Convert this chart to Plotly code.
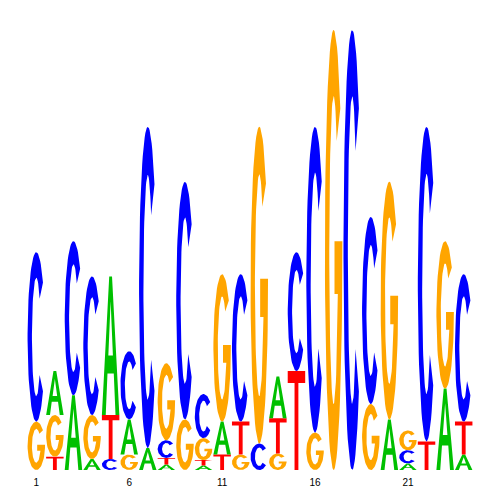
import numpy as np
import plotly.graph_objects as go

positions = list(range(1, 25))
bits_A = [0, 0.20, 0.34, 0.05, 0.63, 0.16, 0.10, 0.025, 0, 0.02, 0.15, 0, 0, 0.19, 0, 0, 0, 0, 0, 0.23, 0.03, 0, 0.37, 0.07]
bits_C = [0.77, 0, 0.70, 0.63, 0.05, 0.31, 1.46, 0.08, 1.08, 0.20, 0, 0.67, 0.12, 0, 0.54, 1.39, 0, 2.0, 0.85, 0, 0.06, 1.43, 0, 0.67]
bits_G = [0.22, 0.19, 0, 0.20, 0, 0.07, 0, 0.35, 0.23, 0.10, 0.67, 0.07, 1.44, 0.075, 0, 0.17, 2.0, 0, 0.30, 1.08, 0.09, 0, 0.67, 0]
bits_T = [0, 0.06, 0, 0, 0.20, 0, 0, 0.03, 0, 0.025, 0.07, 0.15, 0, 0.16, 0.45, 0, 0, 0, 0, 0, 0, 0.13, 0, 0.15]
tick_positions = [1, 6, 11, 16, 21]

colors = {"A": "#00C000", "C": "#0000FF", "G": "#FFA500", "T": "#FF0000"}


def arc(cx, cy, rx, ry, a0, a1, n=60):
    t = np.radians(np.linspace(a0, a1, n))
    return list(cx + rx * np.cos(t)), list(cy + ry * np.sin(t))


def glyph(letter):
    """Return list of polygons (xs, ys) in unit box [0,1]x[0,1]."""
    if letter == "C":
        ox, oy = arc(0.5, 0.5, 0.5, 0.5, 40, 320)
        ix, iy = arc(0.5, 0.5, 0.25, 0.35, 320, 40)
        return [(ox + ix, oy + iy)]
    if letter == "G":
        ox, oy = arc(0.5, 0.5, 0.5, 0.5, 40, 360)
        bx = [1.0, 0.55, 0.55, 0.74]
        by = [0.52, 0.52, 0.40, 0.40]
        ix, iy = arc(0.5, 0.5, 0.25, 0.35, 330, 45)
        return [(ox + bx + ix, oy + by + iy)]
    if letter == "A":
        outer = ([0, 0.22, 0.32, 0.68, 0.78, 1.0, 0.58, 0.42],
                 [0, 0, 0.30, 0.30, 0, 0, 1, 1])
        hole = ([0.37, 0.5, 0.63], [0.43, 0.82, 0.43])
        return [outer, hole]
    # T
    return [([0, 1, 1, 0.61, 0.61, 0.39, 0.39, 0],
             [1, 1, 0.88, 0.88, 0, 0, 0.88, 0.88])]


fig = go.Figure()
half = 0.47
for i, pos in enumerate(positions):
    col = {"A": bits_A[i], "C": bits_C[i], "G": bits_G[i], "T": bits_T[i]}
    base = 0.0
    for letter, h in sorted(col.items(), key=lambda kv: kv[1]):
        if h <= 0:
            continue
        xs, ys = [], []
        for px, py in glyph(letter):
            if xs:
                xs.append(None)
                ys.append(None)
            xs += [pos - half + 2 * half * v for v in px]
            ys += [base + h * v for v in py]
        fig.add_trace(go.Scatter(
            x=xs, y=ys, mode="lines", fill="toself",
            fillcolor=colors[letter], line=dict(width=0, color=colors[letter]),
            hoverinfo="skip", showlegend=False))
        base += h

fig.update_layout(
    width=484, height=492,
    margin=dict(l=19, r=19, t=22, b=20),
    paper_bgcolor="white", plot_bgcolor="white",
    xaxis=dict(range=[0.5, 24.5], tickvals=tick_positions,
               ticktext=[str(t) for t in tick_positions],
               showgrid=False, zeroline=False, showline=False, ticks="",
               ticklabelstandoff=5,
               tickfont=dict(family="Liberation Sans, Arial", size=10, color="black")),
    yaxis=dict(range=[0, 2], visible=False, showgrid=False, zeroline=False),
)

fig.write_html("out.html")
